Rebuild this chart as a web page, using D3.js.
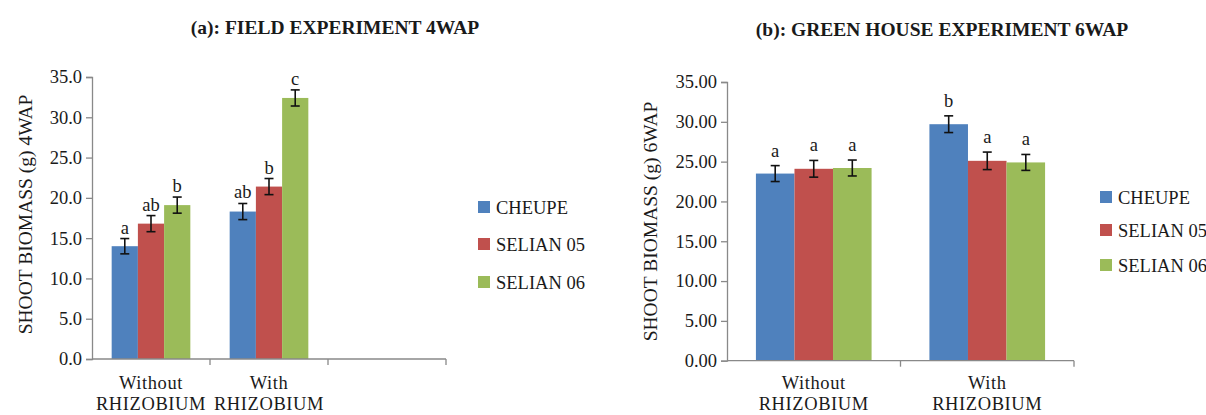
<!DOCTYPE html>
<html><head><meta charset="utf-8">
<script src="https://cdn.jsdelivr.net/npm/d3@7"></script>
<style>body{margin:0;background:#fff}svg{display:block}text{font-family:"Liberation Serif","Times New Roman",serif;fill:#1a1a1a}</style>
</head><body>
<svg id="c" width="1206" height="415"></svg>
<script>
// ---- data ----
const series = ["CHEUPE", "SELIAN 05", "SELIAN 06"];
const colors = ["#4F81BD", "#C0504D", "#9BBB59"];
const categoriesA = ["Without\nRHIZOBIUM", "With\nRHIZOBIUM", ""];
const valuesA = [[14.0, 16.8, 19.1], [18.3, 21.4, 32.4]];
const errorsA = [[0.95, 1.0, 1.0], [1.0, 1.0, 1.0]];
const lettersA = [["a", "ab", "b"], ["ab", "b", "c"]];
const ticksA = [0, 5, 10, 15, 20, 25, 30, 35];

const categoriesB = ["Without\nRHIZOBIUM", "With\nRHIZOBIUM"];
const valuesB = [[23.5, 24.1, 24.2], [29.7, 25.1, 24.9]];
const errorsB = [[1.0, 1.05, 1.0], [1.05, 1.1, 1.0]];
const lettersB = [["a", "a", "a"], ["b", "a", "a"]];
const ticksB = [0, 5, 10, 15, 20, 25, 30, 35];

const FS = 18.5;
const svg = d3.select("#c");

function panel(cfg) {
  const g = svg.append("g");
  const x = d3.scaleBand().domain(cfg.categories.map((d, i) => i)).range([cfg.x0, cfg.x1]).paddingInner(0).paddingOuter(0);
  const inner = d3.scaleBand().domain(series.map((d, i) => i)).range([0, x.bandwidth()]).paddingInner(0).paddingOuter(0.75);
  const y = d3.scaleLinear().domain([0, 35]).range([cfg.y0, cfg.y1]);

  // bars
  cfg.values.forEach((vals, ci) => {
    vals.forEach((v, si) => {
      const bx = x(ci) + inner(si);
      g.append("rect").attr("x", bx).attr("y", y(v)).attr("width", inner.bandwidth()).attr("height", y(0) - y(v)).attr("fill", colors[si]);
      const cx = bx + inner.bandwidth() / 2, e = cfg.errors[ci][si];
      const eb = g.append("g").attr("stroke", "#111").attr("stroke-width", 1.6);
      eb.append("line").attr("x1", cx).attr("x2", cx).attr("y1", y(v + e)).attr("y2", y(v - e));
      eb.append("line").attr("x1", cx - 4.5).attr("x2", cx + 4.5).attr("y1", y(v + e)).attr("y2", y(v + e));
      eb.append("line").attr("x1", cx - 4.5).attr("x2", cx + 4.5).attr("y1", y(v - e)).attr("y2", y(v - e));
      g.append("text").attr("x", cx).attr("y", y(v + e) - cfg.letterGap).attr("text-anchor", "middle").attr("font-size", FS).text(cfg.letters[ci][si]);
    });
  });

  // y axis
  const ya = g.append("g").attr("transform", `translate(${cfg.x0},0)`).call(d3.axisLeft(y).tickValues(cfg.ticks).tickFormat(d3.format(cfg.fmt)).tickSize(6).tickPadding(4));
  ya.select(".domain").attr("stroke", "#898989").attr("stroke-width", 1.3);
  ya.selectAll(".tick line").attr("stroke", "#898989").attr("stroke-width", 1.3);
  ya.selectAll(".tick text").attr("font-size", FS).attr("font-family", "Liberation Serif").attr("fill", "#222");

  // x axis
  const xa = g.append("g").attr("transform", `translate(0,${cfg.y0})`);
  xa.append("line").attr("x1", cfg.x0).attr("x2", cfg.x1).attr("y1", 0).attr("y2", 0).attr("stroke", "#898989").attr("stroke-width", 1.3);
  cfg.categories.forEach((c, i) => {
    xa.append("line").attr("x1", x(i) + x.bandwidth()).attr("x2", x(i) + x.bandwidth()).attr("y1", 0).attr("y2", 6).attr("stroke", "#898989").attr("stroke-width", 1.3);
    const lines = c.split("\n");
    lines.forEach((l, li) => {
      if (!l) return;
      xa.append("text").attr("x", x(i) + x.bandwidth() / 2).attr("y", cfg.catY[li] - cfg.y0).attr("text-anchor", "middle").attr("font-size", FS).attr("letter-spacing", 0.6).text(l);
    });
  });

  // y title
  g.append("text").attr("transform", `translate(${cfg.ytX},${cfg.ytY}) rotate(-90)`).attr("text-anchor", "middle").attr("font-size", 19.5).text(cfg.ytitle);
  // title
  g.append("text").attr("x", cfg.tX).attr("y", cfg.tY).attr("text-anchor", "middle").attr("font-size", 19.5).attr("font-weight", "bold").text(cfg.title);

  // legend
  series.forEach((s, i) => {
    const ly = cfg.legY[i];
    g.append("rect").attr("x", cfg.legX).attr("y", ly - 6).attr("width", 12).attr("height", 12).attr("fill", colors[i]);
    g.append("text").attr("x", cfg.legX + 18).attr("y", ly + 6.5).attr("font-size", FS).text(s);
  });
}

panel({categories: categoriesA, values: valuesA, errors: errorsA, letters: lettersA, ticks: ticksA, fmt: ".1f",
  x0: 92, x1: 446, y0: 359, y1: 77, letterGap: 5, catY: [389, 410],
  ytitle: "SHOOT BIOMASS (g) 4WAP", ytX: 32, ytY: 214.5,
  title: "(a): FIELD EXPERIMENT 4WAP", tX: 335, tY: 34,
  legX: 478, legY: [207, 244, 282]});

panel({categories: categoriesB, values: valuesB, errors: errorsB, letters: lettersB, ticks: ticksB, fmt: ".2f",
  x0: 727, x1: 1074, y0: 360.7, y1: 82, letterGap: 9, catY: [389, 410],
  ytitle: "SHOOT BIOMASS (g) 6WAP", ytX: 657, ytY: 221.5,
  title: "(b): GREEN HOUSE EXPERIMENT 6WAP", tX: 942, tY: 36,
  legX: 1100, legY: [197, 230, 265]});
</script>
</body></html>
